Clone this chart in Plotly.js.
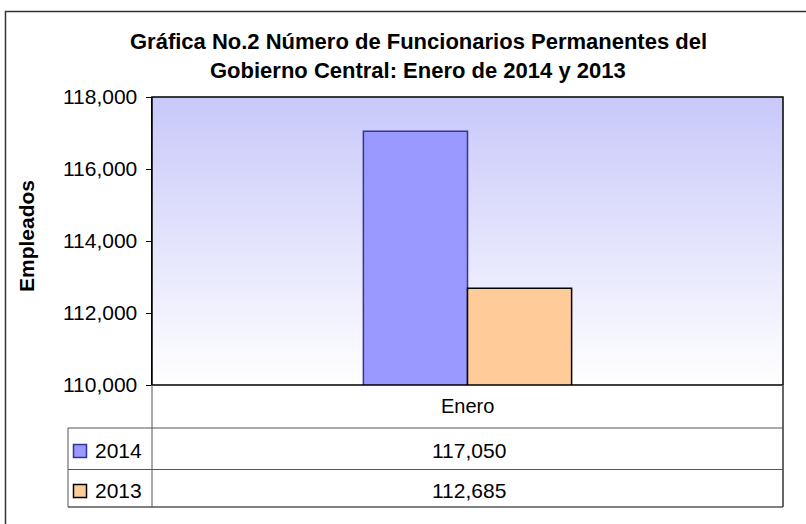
<!DOCTYPE html>
<html>
<head>
<meta charset="utf-8">
<script src="https://cdn.plot.ly/plotly-3.0.1.min.js"></script>
<style>html,body{margin:0;padding:0;background:#fff;}#chart{width:806px;height:524px;}</style>
</head>
<body>
<div id="chart"></div>
<script>
// ---- data ----
const categories = ['Enero'];
const seriesNames = ['2014', '2013'];
const values2014 = [117050];
const values2013 = [112685];
const yTickVals = [110000, 112000, 114000, 116000, 118000];
const titleLines = ['Gráfica No.2 Número de Funcionarios Permanentes del', 'Gobierno Central: Enero de 2014 y 2013'];
const yTitle = 'Empleados';

// ---- geometry helpers (pixel -> paper) ----
const W = 806, H = 524;
const L = 152, R = 783, T = 97, B = 385;
const px = v => (v - L) / (R - L);
const py = v => (B - v) / (B - T);

const FONT = 'Liberation Sans, Arial, sans-serif';
const colors = { '2014': { fill: '#9999ff', line: '#333399' }, '2013': { fill: '#ffcc99', line: '#000000' } };
const fmt = v => v.toLocaleString('en-US');

const traces = [
  { type: 'bar', x: categories, y: values2014, name: seriesNames[0],
    marker: { color: colors['2014'].fill, line: { color: colors['2014'].line, width: 1.5 } }, hoverinfo: 'y+name' },
  { type: 'bar', x: categories, y: values2013, name: seriesNames[1],
    marker: { color: colors['2013'].fill, line: { color: colors['2013'].line, width: 1.5 } }, hoverinfo: 'y+name' }
];

const grad = "<svg xmlns='http://www.w3.org/2000/svg' width='10' height='100' preserveAspectRatio='none'>" +
  "<defs><linearGradient id='g' x1='0' y1='0' x2='0' y2='1'><stop offset='0' stop-color='#c8c8fa'/>" +
  "<stop offset='1' stop-color='#ffffff'/></linearGradient></defs><rect width='10' height='100' fill='url(#g)'/></svg>";

const lineCol = '#555555';
const shapes = [
  // outer chart border
  { type: 'rect', xref: 'paper', yref: 'paper', x0: px(5.5), x1: px(900), y0: py(11.5), y1: py(700),
    line: { color: '#333333', width: 1.5 }, fillcolor: 'rgba(0,0,0,0)', layer: 'below' },
  // plot area border
  { type: 'rect', xref: 'paper', yref: 'paper', x0: 0, x1: 1, y0: 0, y1: 1,
    line: { color: '#000000', width: 1.5 }, fillcolor: 'rgba(0,0,0,0)' },
  // table lines
  { type: 'line', xref: 'paper', yref: 'paper', x0: px(152), x1: px(152), y0: py(385), y1: py(507), line: { color: lineCol, width: 1 } },
  { type: 'line', xref: 'paper', yref: 'paper', x0: px(783), x1: px(783), y0: py(385), y1: py(507), line: { color: '#666666', width: 2 } },
  { type: 'line', xref: 'paper', yref: 'paper', x0: px(68), x1: px(68), y0: py(428), y1: py(507), line: { color: lineCol, width: 1 } },
  { type: 'line', xref: 'paper', yref: 'paper', x0: px(68), x1: px(783), y0: py(428), y1: py(428), line: { color: lineCol, width: 1 } },
  { type: 'line', xref: 'paper', yref: 'paper', x0: px(68), x1: px(783), y0: py(469.5), y1: py(469.5), line: { color: lineCol, width: 1 } },
  { type: 'line', xref: 'paper', yref: 'paper', x0: px(68), x1: px(783), y0: py(507), y1: py(507), line: { color: lineCol, width: 1.5 } }
];

// legend keys in table
const keyRows = [451, 491];
seriesNames.forEach((s, i) => {
  shapes.push({ type: 'rect', xref: 'paper', yref: 'paper', x0: px(73.5), x1: px(86.5), y0: py(keyRows[i] - 6.5), y1: py(keyRows[i] + 6.5),
    fillcolor: colors[s].fill, line: { color: colors[s].line, width: 1.5 } });
});

const annotations = [
  { text: '<b>' + titleLines[0] + '</b>', xref: 'paper', yref: 'paper', x: px(418), y: py(41), xanchor: 'center', yanchor: 'middle', showarrow: false, font: { family: FONT, size: 22, color: '#000' } },
  { text: '<b>' + titleLines[1] + '</b>', xref: 'paper', yref: 'paper', x: px(418), y: py(70), xanchor: 'center', yanchor: 'middle', showarrow: false, font: { family: FONT, size: 22, color: '#000' } },
  { text: '<b>' + yTitle + '</b>', xref: 'paper', yref: 'paper', x: px(26), y: py(236), xanchor: 'center', yanchor: 'middle', textangle: -90, showarrow: false, font: { family: FONT, size: 21, color: '#000' } },
  { text: categories[0], xref: 'paper', yref: 'paper', x: px(467.5), y: py(406), xanchor: 'center', yanchor: 'middle', showarrow: false, font: { family: FONT, size: 20, color: '#000' } }
];
const rowVals = [values2014, values2013];
seriesNames.forEach((s, i) => {
  annotations.push({ text: fmt(rowVals[i][0]), xref: 'paper', yref: 'paper', x: px(469), y: py(keyRows[i] - 1), xanchor: 'center', yanchor: 'middle', showarrow: false, font: { family: FONT, size: 21, color: '#000' } });
  annotations.push({ text: s, xref: 'paper', yref: 'paper', x: px(93), y: py(keyRows[i] - 1), xanchor: 'left', yanchor: 'middle', showarrow: false, font: { family: FONT, size: 21, color: '#000' } });
});

const layout = {
  width: W, height: H,
  margin: { l: L, r: W - R, t: T, b: H - B, pad: 0 },
  paper_bgcolor: '#ffffff',
  plot_bgcolor: 'rgba(0,0,0,0)',
  showlegend: false,
  barmode: 'group',
  bargap: 0.67,
  bargroupgap: 0,
  xaxis: { showticklabels: false, ticks: '', showgrid: false, zeroline: false, showline: false, fixedrange: true },
  yaxis: { range: [110000, 118000], tickvals: yTickVals, ticktext: yTickVals.map(fmt), ticks: 'outside', ticklen: 5, tickcolor: '#000', tickwidth: 1,
    showgrid: false, zeroline: false, showline: true, linecolor: '#000', linewidth: 1.5, ticklabelstandoff: 4,
    tickfont: { family: FONT, size: 21, color: '#000' }, fixedrange: true },
  images: [{ source: 'data:image/svg+xml;charset=utf-8,' + encodeURIComponent(grad), xref: 'paper', yref: 'paper', x: 0, y: 1, sizex: 1, sizey: 1,
    xanchor: 'left', yanchor: 'top', sizing: 'stretch', layer: 'below' }],
  shapes: shapes,
  annotations: annotations
};

Plotly.newPlot('chart', traces, layout, { displayModeBar: false, staticPlot: true });
</script>
</body>
</html>
